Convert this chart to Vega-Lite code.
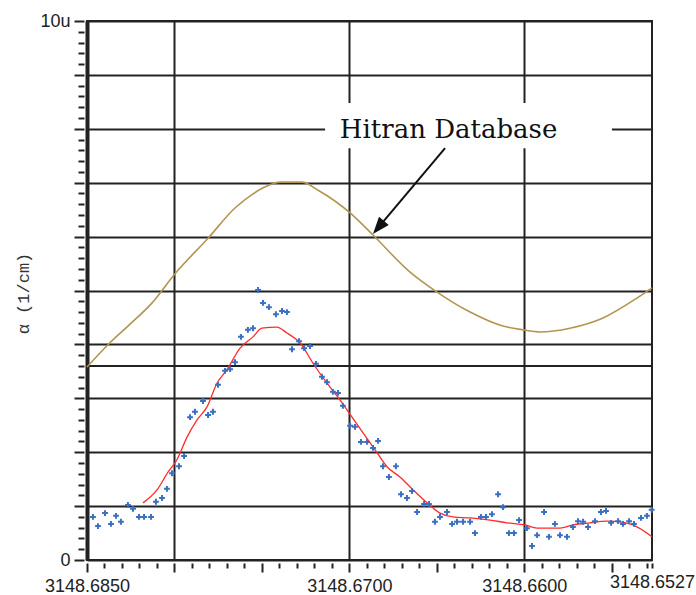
{
  "$schema": "https://vega.github.io/schema/vega-lite/v6.json",
  "width": 565,
  "height": 539,
  "autosize": "none",
  "padding": {"left": 87, "top": 21, "right": 44, "bottom": 35},
  "background": "white",
  "config": {"view": {"stroke": "#222", "strokeWidth": 2}},
  "datasets": {
    "cursor": [{"x": 3148.6527, "x2": 3148.685, "y": 3.6}],
    "box": [{"x": 3148.67139, "x2": 3148.65499, "y": 7.64, "y2": 8.48}],
    "label": [{"x": 3148.66433, "y": 7.83, "text": "Hitran Database"}],
    "arrow": [{"x": 3148.66453, "y": 7.64, "x2": 3148.66834, "y2": 6.17}],
    "head": [{"x": 3148.66834, "y": 6.17}],
    "hitran": [
      {"x": 3148.6850, "y": 3.58}, {"x": 3148.68369, "y": 4.03}, {"x": 3148.68266, "y": 4.34},
      {"x": 3148.68128, "y": 4.77}, {"x": 3148.67997, "y": 5.31}, {"x": 3148.67808, "y": 5.97},
      {"x": 3148.67654, "y": 6.53}, {"x": 3148.67557, "y": 6.78}, {"x": 3148.67454, "y": 6.96},
      {"x": 3148.67397, "y": 7.01}, {"x": 3148.67271, "y": 7.01}, {"x": 3148.67179, "y": 6.86},
      {"x": 3148.66996, "y": 6.44}, {"x": 3148.66865, "y": 6.03}, {"x": 3148.66653, "y": 5.34},
      {"x": 3148.66499, "y": 4.97}, {"x": 3148.66310, "y": 4.60}, {"x": 3148.66122, "y": 4.34},
      {"x": 3148.66007, "y": 4.27}, {"x": 3148.65910, "y": 4.23}, {"x": 3148.65739, "y": 4.30},
      {"x": 3148.65550, "y": 4.49}, {"x": 3148.65356, "y": 4.86}, {"x": 3148.6527, "y": 5.05}
    ],
    "fit": [
      {"x": 3148.68180, "y": 1.06}, {"x": 3148.68100, "y": 1.30}, {"x": 3148.68037, "y": 1.63},
      {"x": 3148.67986, "y": 1.86}, {"x": 3148.67928, "y": 2.28}, {"x": 3148.67871, "y": 2.60},
      {"x": 3148.67814, "y": 2.84}, {"x": 3148.67757, "y": 3.28}, {"x": 3148.67700, "y": 3.53},
      {"x": 3148.67625, "y": 3.93}, {"x": 3148.67551, "y": 4.14}, {"x": 3148.67500, "y": 4.30},
      {"x": 3148.67414, "y": 4.32}, {"x": 3148.67357, "y": 4.21}, {"x": 3148.67282, "y": 4.03},
      {"x": 3148.67208, "y": 3.65}, {"x": 3148.67128, "y": 3.28}, {"x": 3148.67054, "y": 2.97},
      {"x": 3148.66985, "y": 2.65}, {"x": 3148.66922, "y": 2.36}, {"x": 3148.66842, "y": 1.99},
      {"x": 3148.66785, "y": 1.73}, {"x": 3148.66711, "y": 1.54}, {"x": 3148.66636, "y": 1.30},
      {"x": 3148.66556, "y": 1.06}, {"x": 3148.66482, "y": 0.87}, {"x": 3148.66408, "y": 0.80},
      {"x": 3148.66310, "y": 0.78}, {"x": 3148.66196, "y": 0.74}, {"x": 3148.66099, "y": 0.69},
      {"x": 3148.65996, "y": 0.65}, {"x": 3148.65927, "y": 0.59}, {"x": 3148.65796, "y": 0.59},
      {"x": 3148.65722, "y": 0.65}, {"x": 3148.65624, "y": 0.69}, {"x": 3148.65527, "y": 0.72},
      {"x": 3148.65436, "y": 0.70}, {"x": 3148.65379, "y": 0.65}, {"x": 3148.6527, "y": 0.43}
    ],
    "meas": [
      {"x": 3148.68466, "y": 0.80}, {"x": 3148.68437, "y": 0.63}, {"x": 3148.68397, "y": 0.87},
      {"x": 3148.68363, "y": 0.67}, {"x": 3148.68334, "y": 0.82}, {"x": 3148.68306, "y": 0.71},
      {"x": 3148.68266, "y": 1.02}, {"x": 3148.68237, "y": 0.95}, {"x": 3148.68203, "y": 0.80},
      {"x": 3148.68174, "y": 0.80}, {"x": 3148.68134, "y": 0.80}, {"x": 3148.68106, "y": 1.08},
      {"x": 3148.68071, "y": 1.15}, {"x": 3148.68043, "y": 1.32}, {"x": 3148.68014, "y": 1.61},
      {"x": 3148.67974, "y": 1.74}, {"x": 3148.67945, "y": 1.93}, {"x": 3148.67911, "y": 2.65},
      {"x": 3148.67883, "y": 2.75}, {"x": 3148.67837, "y": 2.95}, {"x": 3148.67808, "y": 2.69},
      {"x": 3148.67780, "y": 2.75}, {"x": 3148.67751, "y": 3.25}, {"x": 3148.67711, "y": 3.51},
      {"x": 3148.67682, "y": 3.54}, {"x": 3148.67654, "y": 3.67}, {"x": 3148.67620, "y": 4.14},
      {"x": 3148.67580, "y": 4.27}, {"x": 3148.67551, "y": 4.30}, {"x": 3148.67522, "y": 5.01},
      {"x": 3148.67494, "y": 4.77}, {"x": 3148.67460, "y": 4.69}, {"x": 3148.67420, "y": 4.56},
      {"x": 3148.67385, "y": 4.62}, {"x": 3148.67357, "y": 4.60}, {"x": 3148.67328, "y": 3.91},
      {"x": 3148.67288, "y": 4.06}, {"x": 3148.67259, "y": 3.93}, {"x": 3148.67225, "y": 3.97},
      {"x": 3148.67191, "y": 3.64}, {"x": 3148.67157, "y": 3.40}, {"x": 3148.67128, "y": 3.30},
      {"x": 3148.67094, "y": 3.12}, {"x": 3148.67065, "y": 3.10}, {"x": 3148.67037, "y": 2.86},
      {"x": 3148.66996, "y": 2.49}, {"x": 3148.66968, "y": 2.47}, {"x": 3148.66934, "y": 2.19},
      {"x": 3148.66899, "y": 2.19}, {"x": 3148.66865, "y": 2.08}, {"x": 3148.66836, "y": 2.21},
      {"x": 3148.66808, "y": 1.74}, {"x": 3148.66774, "y": 1.54}, {"x": 3148.66734, "y": 1.74},
      {"x": 3148.66705, "y": 1.22}, {"x": 3148.66671, "y": 1.15}, {"x": 3148.66642, "y": 1.28},
      {"x": 3148.66613, "y": 0.89}, {"x": 3148.66573, "y": 1.04}, {"x": 3148.66545, "y": 1.04},
      {"x": 3148.66511, "y": 0.71}, {"x": 3148.66482, "y": 0.80}, {"x": 3148.66442, "y": 0.89},
      {"x": 3148.66413, "y": 0.67}, {"x": 3148.66385, "y": 0.71}, {"x": 3148.66350, "y": 0.71},
      {"x": 3148.66310, "y": 0.71}, {"x": 3148.66282, "y": 0.50}, {"x": 3148.66248, "y": 0.80},
      {"x": 3148.66219, "y": 0.80}, {"x": 3148.66185, "y": 0.85}, {"x": 3148.66150, "y": 1.22},
      {"x": 3148.66122, "y": 0.98}, {"x": 3148.66088, "y": 0.50}, {"x": 3148.66059, "y": 0.50},
      {"x": 3148.66030, "y": 0.74}, {"x": 3148.65985, "y": 0.59}, {"x": 3148.65956, "y": 0.26},
      {"x": 3148.65927, "y": 0.46}, {"x": 3148.65887, "y": 0.89}, {"x": 3148.65859, "y": 0.43},
      {"x": 3148.65825, "y": 0.67}, {"x": 3148.65796, "y": 0.46}, {"x": 3148.65756, "y": 0.43},
      {"x": 3148.65722, "y": 0.61}, {"x": 3148.65693, "y": 0.72}, {"x": 3148.65664, "y": 0.71},
      {"x": 3148.65636, "y": 0.61}, {"x": 3148.65596, "y": 0.72}, {"x": 3148.65562, "y": 0.89},
      {"x": 3148.65533, "y": 0.91}, {"x": 3148.65504, "y": 0.69}, {"x": 3148.65464, "y": 0.72},
      {"x": 3148.65436, "y": 0.67}, {"x": 3148.65401, "y": 0.72}, {"x": 3148.65373, "y": 0.67},
      {"x": 3148.65333, "y": 0.78}, {"x": 3148.65299, "y": 0.82}, {"x": 3148.65272, "y": 0.93}
    ]
  },
  "encoding": {
    "x": {
      "field": "x", "type": "quantitative",
      "scale": {"domain": [3148.6527, 3148.685], "reverse": true, "nice": false, "zero": false},
      "axis": {
        "orient": "bottom",
        "title": null,
        "values": [3148.6527, 3148.653, 3148.654, 3148.655, 3148.656, 3148.657, 3148.658, 3148.659, 3148.66, 3148.661, 3148.662, 3148.663, 3148.664, 3148.665, 3148.666, 3148.667, 3148.668, 3148.669, 3148.67, 3148.671, 3148.672, 3148.673, 3148.674, 3148.675, 3148.676, 3148.677, 3148.678, 3148.679, 3148.68, 3148.681, 3148.682, 3148.683, 3148.684, 3148.685],
        "format": ".4f",
        "labelExpr": "indexof(['3148.6850','3148.6700','3148.6600','3148.6527'], datum.label) >= 0 ? datum.label : ''",
        "labelOverlap": false,
        "labelFlush": false,
        "labelBound": false,
        "labelFont": "Liberation Sans",
        "labelFontSize": 18,
        "labelColor": "#222",
        "labelPadding": 5,
        "domain": false,
        "offset": 3,
        "grid": true,
        "gridColor": "#222",
        "gridWidth": {"condition": {"test": "abs(datum.value-3148.685)<0.000001", "value": 4}, "value": 2},
        "gridOpacity": {"condition": {"test": "abs(datum.value*100-round(datum.value*100))<0.001 || abs(datum.value-3148.685)<0.000001", "value": 1}, "value": 0},
        "ticks": true,
        "tickColor": "#222",
        "tickWidth": 2,
        "tickSize": {"condition": {"test": "abs(datum.value*200-round(datum.value*200))<0.001", "value": 9}, "value": 5}
      }
    },
    "y": {
      "field": "y", "type": "quantitative",
      "scale": {"domain": [0, 10], "nice": false, "zero": false},
      "axis": {
        "orient": "left",
        "title": "α (1/cm)",
        "titleFont": "Liberation Mono",
        "titleFontSize": 17,
        "titleFontWeight": "normal",
        "titleColor": "#333",
        "titleX": -61,
        "titleY": 272,
        "titleAngle": 270,
        "titleAlign": "center",
        "titleBaseline": "middle",
        "values": [0, 0.2, 0.4, 0.6, 0.8, 1, 1.2, 1.4, 1.6, 1.8, 2, 2.2, 2.4, 2.6, 2.8, 3, 3.2, 3.4, 3.6, 3.8, 4, 4.2, 4.4, 4.6, 4.8, 5, 5.2, 5.4, 5.6, 5.8, 6, 6.2, 6.4, 6.6, 6.8, 7, 7.2, 7.4, 7.6, 7.8, 8, 8.2, 8.4, 8.6, 8.8, 9, 9.2, 9.4, 9.6, 9.8, 10],
        "labelExpr": "datum.value == 10 ? '10u' : (datum.value == 0 ? '0' : '')",
        "labelOverlap": false,
        "labelFlush": false,
        "labelBound": false,
        "labelFont": "Liberation Sans",
        "labelFontSize": 18,
        "labelColor": "#222",
        "labelPadding": 4,
        "domain": false,
        "offset": 3,
        "grid": true,
        "gridColor": "#222",
        "gridWidth": 2,
        "gridOpacity": {"condition": {"test": "abs(datum.value-round(datum.value))<0.001", "value": 1}, "value": 0},
        "ticks": true,
        "tickColor": "#222",
        "tickWidth": 2,
        "tickSize": {"condition": {"test": "abs(datum.value-round(datum.value))<0.001", "value": 10}, "value": 6}
      }
    }
  },
  "layer": [
    {
      "data": {"name": "cursor"},
      "mark": {"type": "rule", "color": "#222", "strokeWidth": 2},
      "encoding": {"x2": {"field": "x2"}}
    },
    {
      "data": {"name": "box"},
      "mark": {"type": "rect", "fill": "white", "stroke": null},
      "encoding": {"x2": {"field": "x2"}, "y2": {"field": "y2"}}
    },
    {
      "data": {"name": "hitran"},
      "mark": {"type": "line", "color": "#b39552", "strokeWidth": 1.6, "interpolate": "monotone"}
    },
    {
      "data": {"name": "fit"},
      "mark": {"type": "line", "color": "#ff2a2a", "strokeWidth": 1.3, "interpolate": "monotone"}
    },
    {
      "data": {"name": "meas"},
      "mark": {"type": "point", "shape": "M-1,0H1M0,-1V1", "size": 34, "filled": false, "strokeWidth": 2, "color": "#3b6fc1", "opacity": 1}
    },
    {
      "data": {"name": "label"},
      "mark": {"type": "text", "font": "DejaVu Serif", "fontSize": 26, "align": "center", "baseline": "alphabetic", "color": "#111"},
      "encoding": {"text": {"field": "text"}}
    },
    {
      "data": {"name": "arrow"},
      "mark": {"type": "rule", "color": "#111", "strokeWidth": 2},
      "encoding": {"x2": {"field": "x2"}, "y2": {"field": "y2"}}
    },
    {
      "data": {"name": "head"},
      "mark": {"type": "point", "shape": "M0,-1L0.75,1L-0.75,1Z", "size": 289, "angle": 220, "filled": true, "color": "#111", "opacity": 1}
    }
  ]
}
